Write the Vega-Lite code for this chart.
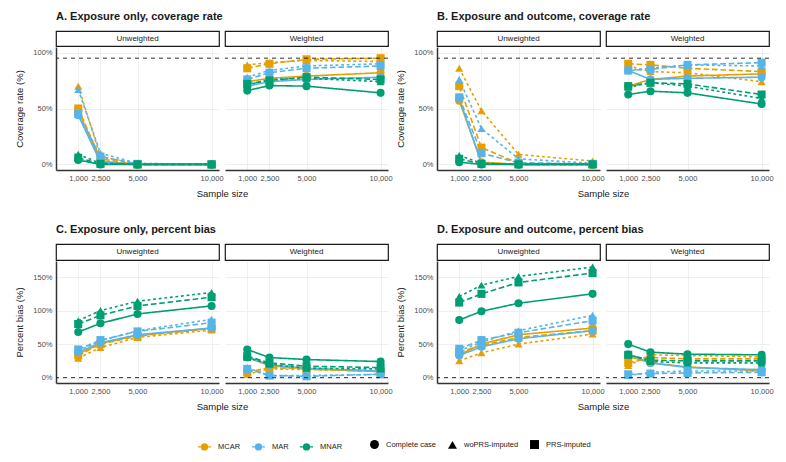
{
  "$schema": "https://vega.github.io/schema/vega-lite/v6.json",
  "background": "white",
  "padding": {"left": 14, "top": 10, "right": 5, "bottom": 5},
  "spacing": 25,
  "config": {
    "font": "Liberation Sans",
    "view": {"stroke": null},
    "axis": {
      "domainColor": "#333333",
      "domainWidth": 1.5,
      "gridColor": "#ebebeb",
      "gridWidth": 0.8,
      "ticks": false,
      "labelFontSize": 7.5,
      "labelColor": "#4d4d4d",
      "labelPadding": 4,
      "labelFlush": false,
      "labelOverlap": false,
      "titleFontSize": 9.5,
      "titleFontWeight": "normal",
      "titleColor": "#1a1a1a"
    },
    "axisY": {"titlePadding": 8},
    "axisX": {"titlePadding": 7},
    "title": {"fontSize": 11, "fontWeight": "bold", "anchor": "start", "color": "#1a1a1a", "offset": 9},
    "legend": {
      "orient": "bottom",
      "direction": "horizontal",
      "title": null,
      "labelFontSize": 7.5,
      "labelColor": "#1a1a1a",
      "labelOffset": 6,
      "columnPadding": 8,
      "offset": 28,
      "layout": {"bottom": {"anchor": "middle", "direction": "horizontal", "margin": 26, "bounds": "flush"}}
    }
  },
  "datasets": {
    "sim": [
      {"panel":"A","wt":"Unweighted","miss":"MCAR","method":"Complete case","n":1000,"value":48},
      {"panel":"A","wt":"Unweighted","miss":"MCAR","method":"Complete case","n":2500,"value":3},
      {"panel":"A","wt":"Unweighted","miss":"MCAR","method":"Complete case","n":5000,"value":0},
      {"panel":"A","wt":"Unweighted","miss":"MCAR","method":"Complete case","n":10000,"value":0},
      {"panel":"A","wt":"Unweighted","miss":"MCAR","method":"woPRS-imputed","n":1000,"value":70},
      {"panel":"A","wt":"Unweighted","miss":"MCAR","method":"woPRS-imputed","n":2500,"value":7},
      {"panel":"A","wt":"Unweighted","miss":"MCAR","method":"woPRS-imputed","n":5000,"value":0.5},
      {"panel":"A","wt":"Unweighted","miss":"MCAR","method":"woPRS-imputed","n":10000,"value":0},
      {"panel":"A","wt":"Unweighted","miss":"MCAR","method":"PRS-imputed","n":1000,"value":50},
      {"panel":"A","wt":"Unweighted","miss":"MCAR","method":"PRS-imputed","n":2500,"value":5},
      {"panel":"A","wt":"Unweighted","miss":"MCAR","method":"PRS-imputed","n":5000,"value":0},
      {"panel":"A","wt":"Unweighted","miss":"MCAR","method":"PRS-imputed","n":10000,"value":0},
      {"panel":"A","wt":"Unweighted","miss":"MAR","method":"Complete case","n":1000,"value":44},
      {"panel":"A","wt":"Unweighted","miss":"MAR","method":"Complete case","n":2500,"value":2},
      {"panel":"A","wt":"Unweighted","miss":"MAR","method":"Complete case","n":5000,"value":0},
      {"panel":"A","wt":"Unweighted","miss":"MAR","method":"Complete case","n":10000,"value":0},
      {"panel":"A","wt":"Unweighted","miss":"MAR","method":"woPRS-imputed","n":1000,"value":67},
      {"panel":"A","wt":"Unweighted","miss":"MAR","method":"woPRS-imputed","n":2500,"value":10},
      {"panel":"A","wt":"Unweighted","miss":"MAR","method":"woPRS-imputed","n":5000,"value":1},
      {"panel":"A","wt":"Unweighted","miss":"MAR","method":"woPRS-imputed","n":10000,"value":0},
      {"panel":"A","wt":"Unweighted","miss":"MAR","method":"PRS-imputed","n":1000,"value":45},
      {"panel":"A","wt":"Unweighted","miss":"MAR","method":"PRS-imputed","n":2500,"value":7},
      {"panel":"A","wt":"Unweighted","miss":"MAR","method":"PRS-imputed","n":5000,"value":0.5},
      {"panel":"A","wt":"Unweighted","miss":"MAR","method":"PRS-imputed","n":10000,"value":0},
      {"panel":"A","wt":"Unweighted","miss":"MNAR","method":"Complete case","n":1000,"value":4},
      {"panel":"A","wt":"Unweighted","miss":"MNAR","method":"Complete case","n":2500,"value":0},
      {"panel":"A","wt":"Unweighted","miss":"MNAR","method":"Complete case","n":5000,"value":0},
      {"panel":"A","wt":"Unweighted","miss":"MNAR","method":"Complete case","n":10000,"value":0},
      {"panel":"A","wt":"Unweighted","miss":"MNAR","method":"woPRS-imputed","n":1000,"value":9},
      {"panel":"A","wt":"Unweighted","miss":"MNAR","method":"woPRS-imputed","n":2500,"value":1},
      {"panel":"A","wt":"Unweighted","miss":"MNAR","method":"woPRS-imputed","n":5000,"value":0},
      {"panel":"A","wt":"Unweighted","miss":"MNAR","method":"woPRS-imputed","n":10000,"value":0},
      {"panel":"A","wt":"Unweighted","miss":"MNAR","method":"PRS-imputed","n":1000,"value":6},
      {"panel":"A","wt":"Unweighted","miss":"MNAR","method":"PRS-imputed","n":2500,"value":0.5},
      {"panel":"A","wt":"Unweighted","miss":"MNAR","method":"PRS-imputed","n":5000,"value":0},
      {"panel":"A","wt":"Unweighted","miss":"MNAR","method":"PRS-imputed","n":10000,"value":0},

      {"panel":"A","wt":"Weighted","miss":"MCAR","method":"Complete case","n":1000,"value":74},
      {"panel":"A","wt":"Weighted","miss":"MCAR","method":"Complete case","n":2500,"value":77},
      {"panel":"A","wt":"Weighted","miss":"MCAR","method":"Complete case","n":5000,"value":79},
      {"panel":"A","wt":"Weighted","miss":"MCAR","method":"Complete case","n":10000,"value":82},
      {"panel":"A","wt":"Weighted","miss":"MCAR","method":"woPRS-imputed","n":1000,"value":89},
      {"panel":"A","wt":"Weighted","miss":"MCAR","method":"woPRS-imputed","n":2500,"value":91},
      {"panel":"A","wt":"Weighted","miss":"MCAR","method":"woPRS-imputed","n":5000,"value":93},
      {"panel":"A","wt":"Weighted","miss":"MCAR","method":"woPRS-imputed","n":10000,"value":92},
      {"panel":"A","wt":"Weighted","miss":"MCAR","method":"PRS-imputed","n":1000,"value":86},
      {"panel":"A","wt":"Weighted","miss":"MCAR","method":"PRS-imputed","n":2500,"value":90},
      {"panel":"A","wt":"Weighted","miss":"MCAR","method":"PRS-imputed","n":5000,"value":94},
      {"panel":"A","wt":"Weighted","miss":"MCAR","method":"PRS-imputed","n":10000,"value":95},
      {"panel":"A","wt":"Weighted","miss":"MAR","method":"Complete case","n":1000,"value":70},
      {"panel":"A","wt":"Weighted","miss":"MAR","method":"Complete case","n":2500,"value":74},
      {"panel":"A","wt":"Weighted","miss":"MAR","method":"Complete case","n":5000,"value":76},
      {"panel":"A","wt":"Weighted","miss":"MAR","method":"Complete case","n":10000,"value":78},
      {"panel":"A","wt":"Weighted","miss":"MAR","method":"woPRS-imputed","n":1000,"value":78},
      {"panel":"A","wt":"Weighted","miss":"MAR","method":"woPRS-imputed","n":2500,"value":84},
      {"panel":"A","wt":"Weighted","miss":"MAR","method":"woPRS-imputed","n":5000,"value":88},
      {"panel":"A","wt":"Weighted","miss":"MAR","method":"woPRS-imputed","n":10000,"value":90},
      {"panel":"A","wt":"Weighted","miss":"MAR","method":"PRS-imputed","n":1000,"value":76},
      {"panel":"A","wt":"Weighted","miss":"MAR","method":"PRS-imputed","n":2500,"value":82},
      {"panel":"A","wt":"Weighted","miss":"MAR","method":"PRS-imputed","n":5000,"value":86},
      {"panel":"A","wt":"Weighted","miss":"MAR","method":"PRS-imputed","n":10000,"value":88},
      {"panel":"A","wt":"Weighted","miss":"MNAR","method":"Complete case","n":1000,"value":66},
      {"panel":"A","wt":"Weighted","miss":"MNAR","method":"Complete case","n":2500,"value":70.5},
      {"panel":"A","wt":"Weighted","miss":"MNAR","method":"Complete case","n":5000,"value":70},
      {"panel":"A","wt":"Weighted","miss":"MNAR","method":"Complete case","n":10000,"value":64},
      {"panel":"A","wt":"Weighted","miss":"MNAR","method":"woPRS-imputed","n":1000,"value":71},
      {"panel":"A","wt":"Weighted","miss":"MNAR","method":"woPRS-imputed","n":2500,"value":76},
      {"panel":"A","wt":"Weighted","miss":"MNAR","method":"woPRS-imputed","n":5000,"value":77},
      {"panel":"A","wt":"Weighted","miss":"MNAR","method":"woPRS-imputed","n":10000,"value":74},
      {"panel":"A","wt":"Weighted","miss":"MNAR","method":"PRS-imputed","n":1000,"value":72},
      {"panel":"A","wt":"Weighted","miss":"MNAR","method":"PRS-imputed","n":2500,"value":75},
      {"panel":"A","wt":"Weighted","miss":"MNAR","method":"PRS-imputed","n":5000,"value":78},
      {"panel":"A","wt":"Weighted","miss":"MNAR","method":"PRS-imputed","n":10000,"value":76},

      {"panel":"B","wt":"Unweighted","miss":"MCAR","method":"Complete case","n":1000,"value":57},
      {"panel":"B","wt":"Unweighted","miss":"MCAR","method":"Complete case","n":2500,"value":2},
      {"panel":"B","wt":"Unweighted","miss":"MCAR","method":"Complete case","n":5000,"value":0},
      {"panel":"B","wt":"Unweighted","miss":"MCAR","method":"Complete case","n":10000,"value":0},
      {"panel":"B","wt":"Unweighted","miss":"MCAR","method":"woPRS-imputed","n":1000,"value":86},
      {"panel":"B","wt":"Unweighted","miss":"MCAR","method":"woPRS-imputed","n":2500,"value":48},
      {"panel":"B","wt":"Unweighted","miss":"MCAR","method":"woPRS-imputed","n":5000,"value":9},
      {"panel":"B","wt":"Unweighted","miss":"MCAR","method":"woPRS-imputed","n":10000,"value":3},
      {"panel":"B","wt":"Unweighted","miss":"MCAR","method":"PRS-imputed","n":1000,"value":70},
      {"panel":"B","wt":"Unweighted","miss":"MCAR","method":"PRS-imputed","n":2500,"value":15},
      {"panel":"B","wt":"Unweighted","miss":"MCAR","method":"PRS-imputed","n":5000,"value":1},
      {"panel":"B","wt":"Unweighted","miss":"MCAR","method":"PRS-imputed","n":10000,"value":0},
      {"panel":"B","wt":"Unweighted","miss":"MAR","method":"Complete case","n":1000,"value":59},
      {"panel":"B","wt":"Unweighted","miss":"MAR","method":"Complete case","n":2500,"value":1},
      {"panel":"B","wt":"Unweighted","miss":"MAR","method":"Complete case","n":5000,"value":0},
      {"panel":"B","wt":"Unweighted","miss":"MAR","method":"Complete case","n":10000,"value":0},
      {"panel":"B","wt":"Unweighted","miss":"MAR","method":"woPRS-imputed","n":1000,"value":76},
      {"panel":"B","wt":"Unweighted","miss":"MAR","method":"woPRS-imputed","n":2500,"value":32},
      {"panel":"B","wt":"Unweighted","miss":"MAR","method":"woPRS-imputed","n":5000,"value":5},
      {"panel":"B","wt":"Unweighted","miss":"MAR","method":"woPRS-imputed","n":10000,"value":1},
      {"panel":"B","wt":"Unweighted","miss":"MAR","method":"PRS-imputed","n":1000,"value":60},
      {"panel":"B","wt":"Unweighted","miss":"MAR","method":"PRS-imputed","n":2500,"value":10},
      {"panel":"B","wt":"Unweighted","miss":"MAR","method":"PRS-imputed","n":5000,"value":1.5},
      {"panel":"B","wt":"Unweighted","miss":"MAR","method":"PRS-imputed","n":10000,"value":0.5},
      {"panel":"B","wt":"Unweighted","miss":"MNAR","method":"Complete case","n":1000,"value":2},
      {"panel":"B","wt":"Unweighted","miss":"MNAR","method":"Complete case","n":2500,"value":0},
      {"panel":"B","wt":"Unweighted","miss":"MNAR","method":"Complete case","n":5000,"value":0},
      {"panel":"B","wt":"Unweighted","miss":"MNAR","method":"Complete case","n":10000,"value":0},
      {"panel":"B","wt":"Unweighted","miss":"MNAR","method":"woPRS-imputed","n":1000,"value":8},
      {"panel":"B","wt":"Unweighted","miss":"MNAR","method":"woPRS-imputed","n":2500,"value":1},
      {"panel":"B","wt":"Unweighted","miss":"MNAR","method":"woPRS-imputed","n":5000,"value":0},
      {"panel":"B","wt":"Unweighted","miss":"MNAR","method":"woPRS-imputed","n":10000,"value":0},
      {"panel":"B","wt":"Unweighted","miss":"MNAR","method":"PRS-imputed","n":1000,"value":5},
      {"panel":"B","wt":"Unweighted","miss":"MNAR","method":"PRS-imputed","n":2500,"value":0.5},
      {"panel":"B","wt":"Unweighted","miss":"MNAR","method":"PRS-imputed","n":5000,"value":0},
      {"panel":"B","wt":"Unweighted","miss":"MNAR","method":"PRS-imputed","n":10000,"value":0},

      {"panel":"B","wt":"Weighted","miss":"MCAR","method":"Complete case","n":1000,"value":70},
      {"panel":"B","wt":"Weighted","miss":"MCAR","method":"Complete case","n":2500,"value":76},
      {"panel":"B","wt":"Weighted","miss":"MCAR","method":"Complete case","n":5000,"value":79},
      {"panel":"B","wt":"Weighted","miss":"MCAR","method":"Complete case","n":10000,"value":81},
      {"panel":"B","wt":"Weighted","miss":"MCAR","method":"woPRS-imputed","n":1000,"value":88},
      {"panel":"B","wt":"Weighted","miss":"MCAR","method":"woPRS-imputed","n":2500,"value":83},
      {"panel":"B","wt":"Weighted","miss":"MCAR","method":"woPRS-imputed","n":5000,"value":82},
      {"panel":"B","wt":"Weighted","miss":"MCAR","method":"woPRS-imputed","n":10000,"value":74},
      {"panel":"B","wt":"Weighted","miss":"MCAR","method":"PRS-imputed","n":1000,"value":90},
      {"panel":"B","wt":"Weighted","miss":"MCAR","method":"PRS-imputed","n":2500,"value":89},
      {"panel":"B","wt":"Weighted","miss":"MCAR","method":"PRS-imputed","n":5000,"value":86},
      {"panel":"B","wt":"Weighted","miss":"MCAR","method":"PRS-imputed","n":10000,"value":83},
      {"panel":"B","wt":"Weighted","miss":"MAR","method":"Complete case","n":1000,"value":84},
      {"panel":"B","wt":"Weighted","miss":"MAR","method":"Complete case","n":2500,"value":76},
      {"panel":"B","wt":"Weighted","miss":"MAR","method":"Complete case","n":5000,"value":77},
      {"panel":"B","wt":"Weighted","miss":"MAR","method":"Complete case","n":10000,"value":78},
      {"panel":"B","wt":"Weighted","miss":"MAR","method":"woPRS-imputed","n":1000,"value":84},
      {"panel":"B","wt":"Weighted","miss":"MAR","method":"woPRS-imputed","n":2500,"value":86},
      {"panel":"B","wt":"Weighted","miss":"MAR","method":"woPRS-imputed","n":5000,"value":89},
      {"panel":"B","wt":"Weighted","miss":"MAR","method":"woPRS-imputed","n":10000,"value":88},
      {"panel":"B","wt":"Weighted","miss":"MAR","method":"PRS-imputed","n":1000,"value":84},
      {"panel":"B","wt":"Weighted","miss":"MAR","method":"PRS-imputed","n":2500,"value":85},
      {"panel":"B","wt":"Weighted","miss":"MAR","method":"PRS-imputed","n":5000,"value":89},
      {"panel":"B","wt":"Weighted","miss":"MAR","method":"PRS-imputed","n":10000,"value":91},
      {"panel":"B","wt":"Weighted","miss":"MNAR","method":"Complete case","n":1000,"value":62.5},
      {"panel":"B","wt":"Weighted","miss":"MNAR","method":"Complete case","n":2500,"value":65.5},
      {"panel":"B","wt":"Weighted","miss":"MNAR","method":"Complete case","n":5000,"value":64},
      {"panel":"B","wt":"Weighted","miss":"MNAR","method":"Complete case","n":10000,"value":54},
      {"panel":"B","wt":"Weighted","miss":"MNAR","method":"woPRS-imputed","n":1000,"value":69},
      {"panel":"B","wt":"Weighted","miss":"MNAR","method":"woPRS-imputed","n":2500,"value":73},
      {"panel":"B","wt":"Weighted","miss":"MNAR","method":"woPRS-imputed","n":5000,"value":70},
      {"panel":"B","wt":"Weighted","miss":"MNAR","method":"woPRS-imputed","n":10000,"value":59},
      {"panel":"B","wt":"Weighted","miss":"MNAR","method":"PRS-imputed","n":1000,"value":70},
      {"panel":"B","wt":"Weighted","miss":"MNAR","method":"PRS-imputed","n":2500,"value":73},
      {"panel":"B","wt":"Weighted","miss":"MNAR","method":"PRS-imputed","n":5000,"value":72},
      {"panel":"B","wt":"Weighted","miss":"MNAR","method":"PRS-imputed","n":10000,"value":62.5},

      {"panel":"C","wt":"Unweighted","miss":"MCAR","method":"Complete case","n":1000,"value":35},
      {"panel":"C","wt":"Unweighted","miss":"MCAR","method":"Complete case","n":2500,"value":51},
      {"panel":"C","wt":"Unweighted","miss":"MCAR","method":"Complete case","n":5000,"value":63},
      {"panel":"C","wt":"Unweighted","miss":"MCAR","method":"Complete case","n":10000,"value":74},
      {"panel":"C","wt":"Unweighted","miss":"MCAR","method":"woPRS-imputed","n":1000,"value":29},
      {"panel":"C","wt":"Unweighted","miss":"MCAR","method":"woPRS-imputed","n":2500,"value":45},
      {"panel":"C","wt":"Unweighted","miss":"MCAR","method":"woPRS-imputed","n":5000,"value":60},
      {"panel":"C","wt":"Unweighted","miss":"MCAR","method":"woPRS-imputed","n":10000,"value":71},
      {"panel":"C","wt":"Unweighted","miss":"MCAR","method":"PRS-imputed","n":1000,"value":33},
      {"panel":"C","wt":"Unweighted","miss":"MCAR","method":"PRS-imputed","n":2500,"value":50},
      {"panel":"C","wt":"Unweighted","miss":"MCAR","method":"PRS-imputed","n":5000,"value":62},
      {"panel":"C","wt":"Unweighted","miss":"MCAR","method":"PRS-imputed","n":10000,"value":73},
      {"panel":"C","wt":"Unweighted","miss":"MAR","method":"Complete case","n":1000,"value":38},
      {"panel":"C","wt":"Unweighted","miss":"MAR","method":"Complete case","n":2500,"value":52},
      {"panel":"C","wt":"Unweighted","miss":"MAR","method":"Complete case","n":5000,"value":64},
      {"panel":"C","wt":"Unweighted","miss":"MAR","method":"Complete case","n":10000,"value":74},
      {"panel":"C","wt":"Unweighted","miss":"MAR","method":"woPRS-imputed","n":1000,"value":40},
      {"panel":"C","wt":"Unweighted","miss":"MAR","method":"woPRS-imputed","n":2500,"value":55},
      {"panel":"C","wt":"Unweighted","miss":"MAR","method":"woPRS-imputed","n":5000,"value":70},
      {"panel":"C","wt":"Unweighted","miss":"MAR","method":"woPRS-imputed","n":10000,"value":87},
      {"panel":"C","wt":"Unweighted","miss":"MAR","method":"PRS-imputed","n":1000,"value":42},
      {"panel":"C","wt":"Unweighted","miss":"MAR","method":"PRS-imputed","n":2500,"value":56},
      {"panel":"C","wt":"Unweighted","miss":"MAR","method":"PRS-imputed","n":5000,"value":69},
      {"panel":"C","wt":"Unweighted","miss":"MAR","method":"PRS-imputed","n":10000,"value":82},
      {"panel":"C","wt":"Unweighted","miss":"MNAR","method":"Complete case","n":1000,"value":68},
      {"panel":"C","wt":"Unweighted","miss":"MNAR","method":"Complete case","n":2500,"value":81},
      {"panel":"C","wt":"Unweighted","miss":"MNAR","method":"Complete case","n":5000,"value":95},
      {"panel":"C","wt":"Unweighted","miss":"MNAR","method":"Complete case","n":10000,"value":107},
      {"panel":"C","wt":"Unweighted","miss":"MNAR","method":"woPRS-imputed","n":1000,"value":85},
      {"panel":"C","wt":"Unweighted","miss":"MNAR","method":"woPRS-imputed","n":2500,"value":100},
      {"panel":"C","wt":"Unweighted","miss":"MNAR","method":"woPRS-imputed","n":5000,"value":114},
      {"panel":"C","wt":"Unweighted","miss":"MNAR","method":"woPRS-imputed","n":10000,"value":127},
      {"panel":"C","wt":"Unweighted","miss":"MNAR","method":"PRS-imputed","n":1000,"value":80},
      {"panel":"C","wt":"Unweighted","miss":"MNAR","method":"PRS-imputed","n":2500,"value":93},
      {"panel":"C","wt":"Unweighted","miss":"MNAR","method":"PRS-imputed","n":5000,"value":107},
      {"panel":"C","wt":"Unweighted","miss":"MNAR","method":"PRS-imputed","n":10000,"value":120},

      {"panel":"C","wt":"Weighted","miss":"MCAR","method":"Complete case","n":1000,"value":30},
      {"panel":"C","wt":"Weighted","miss":"MCAR","method":"Complete case","n":2500,"value":18},
      {"panel":"C","wt":"Weighted","miss":"MCAR","method":"Complete case","n":5000,"value":13},
      {"panel":"C","wt":"Weighted","miss":"MCAR","method":"Complete case","n":10000,"value":9},
      {"panel":"C","wt":"Weighted","miss":"MCAR","method":"woPRS-imputed","n":1000,"value":5},
      {"panel":"C","wt":"Weighted","miss":"MCAR","method":"woPRS-imputed","n":2500,"value":13},
      {"panel":"C","wt":"Weighted","miss":"MCAR","method":"woPRS-imputed","n":5000,"value":12},
      {"panel":"C","wt":"Weighted","miss":"MCAR","method":"woPRS-imputed","n":10000,"value":10},
      {"panel":"C","wt":"Weighted","miss":"MCAR","method":"PRS-imputed","n":1000,"value":8},
      {"panel":"C","wt":"Weighted","miss":"MCAR","method":"PRS-imputed","n":2500,"value":15},
      {"panel":"C","wt":"Weighted","miss":"MCAR","method":"PRS-imputed","n":5000,"value":13},
      {"panel":"C","wt":"Weighted","miss":"MCAR","method":"PRS-imputed","n":10000,"value":9},
      {"panel":"C","wt":"Weighted","miss":"MAR","method":"Complete case","n":1000,"value":31},
      {"panel":"C","wt":"Weighted","miss":"MAR","method":"Complete case","n":2500,"value":19},
      {"panel":"C","wt":"Weighted","miss":"MAR","method":"Complete case","n":5000,"value":14},
      {"panel":"C","wt":"Weighted","miss":"MAR","method":"Complete case","n":10000,"value":10},
      {"panel":"C","wt":"Weighted","miss":"MAR","method":"woPRS-imputed","n":1000,"value":15},
      {"panel":"C","wt":"Weighted","miss":"MAR","method":"woPRS-imputed","n":2500,"value":3},
      {"panel":"C","wt":"Weighted","miss":"MAR","method":"woPRS-imputed","n":5000,"value":3},
      {"panel":"C","wt":"Weighted","miss":"MAR","method":"woPRS-imputed","n":10000,"value":5},
      {"panel":"C","wt":"Weighted","miss":"MAR","method":"PRS-imputed","n":1000,"value":13},
      {"panel":"C","wt":"Weighted","miss":"MAR","method":"PRS-imputed","n":2500,"value":3},
      {"panel":"C","wt":"Weighted","miss":"MAR","method":"PRS-imputed","n":5000,"value":2},
      {"panel":"C","wt":"Weighted","miss":"MAR","method":"PRS-imputed","n":10000,"value":5},
      {"panel":"C","wt":"Weighted","miss":"MNAR","method":"Complete case","n":1000,"value":42},
      {"panel":"C","wt":"Weighted","miss":"MNAR","method":"Complete case","n":2500,"value":30},
      {"panel":"C","wt":"Weighted","miss":"MNAR","method":"Complete case","n":5000,"value":27},
      {"panel":"C","wt":"Weighted","miss":"MNAR","method":"Complete case","n":10000,"value":24},
      {"panel":"C","wt":"Weighted","miss":"MNAR","method":"woPRS-imputed","n":1000,"value":30},
      {"panel":"C","wt":"Weighted","miss":"MNAR","method":"woPRS-imputed","n":2500,"value":20},
      {"panel":"C","wt":"Weighted","miss":"MNAR","method":"woPRS-imputed","n":5000,"value":14},
      {"panel":"C","wt":"Weighted","miss":"MNAR","method":"woPRS-imputed","n":10000,"value":13},
      {"panel":"C","wt":"Weighted","miss":"MNAR","method":"PRS-imputed","n":1000,"value":32},
      {"panel":"C","wt":"Weighted","miss":"MNAR","method":"PRS-imputed","n":2500,"value":22},
      {"panel":"C","wt":"Weighted","miss":"MNAR","method":"PRS-imputed","n":5000,"value":17},
      {"panel":"C","wt":"Weighted","miss":"MNAR","method":"PRS-imputed","n":10000,"value":15},

      {"panel":"D","wt":"Unweighted","miss":"MCAR","method":"Complete case","n":1000,"value":34},
      {"panel":"D","wt":"Unweighted","miss":"MCAR","method":"Complete case","n":2500,"value":50},
      {"panel":"D","wt":"Unweighted","miss":"MCAR","method":"Complete case","n":5000,"value":64},
      {"panel":"D","wt":"Unweighted","miss":"MCAR","method":"Complete case","n":10000,"value":74},
      {"panel":"D","wt":"Unweighted","miss":"MCAR","method":"woPRS-imputed","n":1000,"value":25},
      {"panel":"D","wt":"Unweighted","miss":"MCAR","method":"woPRS-imputed","n":2500,"value":37},
      {"panel":"D","wt":"Unweighted","miss":"MCAR","method":"woPRS-imputed","n":5000,"value":50},
      {"panel":"D","wt":"Unweighted","miss":"MCAR","method":"woPRS-imputed","n":10000,"value":65},
      {"panel":"D","wt":"Unweighted","miss":"MCAR","method":"PRS-imputed","n":1000,"value":38},
      {"panel":"D","wt":"Unweighted","miss":"MCAR","method":"PRS-imputed","n":2500,"value":48},
      {"panel":"D","wt":"Unweighted","miss":"MCAR","method":"PRS-imputed","n":5000,"value":60},
      {"panel":"D","wt":"Unweighted","miss":"MCAR","method":"PRS-imputed","n":10000,"value":70},
      {"panel":"D","wt":"Unweighted","miss":"MAR","method":"Complete case","n":1000,"value":33},
      {"panel":"D","wt":"Unweighted","miss":"MAR","method":"Complete case","n":2500,"value":46},
      {"panel":"D","wt":"Unweighted","miss":"MAR","method":"Complete case","n":5000,"value":58},
      {"panel":"D","wt":"Unweighted","miss":"MAR","method":"Complete case","n":10000,"value":70},
      {"panel":"D","wt":"Unweighted","miss":"MAR","method":"woPRS-imputed","n":1000,"value":40},
      {"panel":"D","wt":"Unweighted","miss":"MAR","method":"woPRS-imputed","n":2500,"value":53},
      {"panel":"D","wt":"Unweighted","miss":"MAR","method":"woPRS-imputed","n":5000,"value":70},
      {"panel":"D","wt":"Unweighted","miss":"MAR","method":"woPRS-imputed","n":10000,"value":93},
      {"panel":"D","wt":"Unweighted","miss":"MAR","method":"PRS-imputed","n":1000,"value":43},
      {"panel":"D","wt":"Unweighted","miss":"MAR","method":"PRS-imputed","n":2500,"value":56},
      {"panel":"D","wt":"Unweighted","miss":"MAR","method":"PRS-imputed","n":5000,"value":67},
      {"panel":"D","wt":"Unweighted","miss":"MAR","method":"PRS-imputed","n":10000,"value":85},
      {"panel":"D","wt":"Unweighted","miss":"MNAR","method":"Complete case","n":1000,"value":86},
      {"panel":"D","wt":"Unweighted","miss":"MNAR","method":"Complete case","n":2500,"value":99},
      {"panel":"D","wt":"Unweighted","miss":"MNAR","method":"Complete case","n":5000,"value":111},
      {"panel":"D","wt":"Unweighted","miss":"MNAR","method":"Complete case","n":10000,"value":125},
      {"panel":"D","wt":"Unweighted","miss":"MNAR","method":"woPRS-imputed","n":1000,"value":121},
      {"panel":"D","wt":"Unweighted","miss":"MNAR","method":"woPRS-imputed","n":2500,"value":138},
      {"panel":"D","wt":"Unweighted","miss":"MNAR","method":"woPRS-imputed","n":5000,"value":151},
      {"panel":"D","wt":"Unweighted","miss":"MNAR","method":"woPRS-imputed","n":10000,"value":165},
      {"panel":"D","wt":"Unweighted","miss":"MNAR","method":"PRS-imputed","n":1000,"value":112},
      {"panel":"D","wt":"Unweighted","miss":"MNAR","method":"PRS-imputed","n":2500,"value":125},
      {"panel":"D","wt":"Unweighted","miss":"MNAR","method":"PRS-imputed","n":5000,"value":142},
      {"panel":"D","wt":"Unweighted","miss":"MNAR","method":"PRS-imputed","n":10000,"value":156},

      {"panel":"D","wt":"Weighted","miss":"MCAR","method":"Complete case","n":1000,"value":32},
      {"panel":"D","wt":"Weighted","miss":"MCAR","method":"Complete case","n":2500,"value":22},
      {"panel":"D","wt":"Weighted","miss":"MCAR","method":"Complete case","n":5000,"value":16},
      {"panel":"D","wt":"Weighted","miss":"MCAR","method":"Complete case","n":10000,"value":10},
      {"panel":"D","wt":"Weighted","miss":"MCAR","method":"woPRS-imputed","n":1000,"value":18},
      {"panel":"D","wt":"Weighted","miss":"MCAR","method":"woPRS-imputed","n":2500,"value":34},
      {"panel":"D","wt":"Weighted","miss":"MCAR","method":"woPRS-imputed","n":5000,"value":33},
      {"panel":"D","wt":"Weighted","miss":"MCAR","method":"woPRS-imputed","n":10000,"value":31},
      {"panel":"D","wt":"Weighted","miss":"MCAR","method":"PRS-imputed","n":1000,"value":22},
      {"panel":"D","wt":"Weighted","miss":"MCAR","method":"PRS-imputed","n":2500,"value":30},
      {"panel":"D","wt":"Weighted","miss":"MCAR","method":"PRS-imputed","n":5000,"value":28},
      {"panel":"D","wt":"Weighted","miss":"MCAR","method":"PRS-imputed","n":10000,"value":28},
      {"panel":"D","wt":"Weighted","miss":"MAR","method":"Complete case","n":1000,"value":35},
      {"panel":"D","wt":"Weighted","miss":"MAR","method":"Complete case","n":2500,"value":22},
      {"panel":"D","wt":"Weighted","miss":"MAR","method":"Complete case","n":5000,"value":15},
      {"panel":"D","wt":"Weighted","miss":"MAR","method":"Complete case","n":10000,"value":12},
      {"panel":"D","wt":"Weighted","miss":"MAR","method":"woPRS-imputed","n":1000,"value":3},
      {"panel":"D","wt":"Weighted","miss":"MAR","method":"woPRS-imputed","n":2500,"value":8},
      {"panel":"D","wt":"Weighted","miss":"MAR","method":"woPRS-imputed","n":5000,"value":10},
      {"panel":"D","wt":"Weighted","miss":"MAR","method":"woPRS-imputed","n":10000,"value":10},
      {"panel":"D","wt":"Weighted","miss":"MAR","method":"PRS-imputed","n":1000,"value":5},
      {"panel":"D","wt":"Weighted","miss":"MAR","method":"PRS-imputed","n":2500,"value":6},
      {"panel":"D","wt":"Weighted","miss":"MAR","method":"PRS-imputed","n":5000,"value":7},
      {"panel":"D","wt":"Weighted","miss":"MAR","method":"PRS-imputed","n":10000,"value":8},
      {"panel":"D","wt":"Weighted","miss":"MNAR","method":"Complete case","n":1000,"value":50},
      {"panel":"D","wt":"Weighted","miss":"MNAR","method":"Complete case","n":2500,"value":38},
      {"panel":"D","wt":"Weighted","miss":"MNAR","method":"Complete case","n":5000,"value":35},
      {"panel":"D","wt":"Weighted","miss":"MNAR","method":"Complete case","n":10000,"value":34},
      {"panel":"D","wt":"Weighted","miss":"MNAR","method":"woPRS-imputed","n":1000,"value":35},
      {"panel":"D","wt":"Weighted","miss":"MNAR","method":"woPRS-imputed","n":2500,"value":24},
      {"panel":"D","wt":"Weighted","miss":"MNAR","method":"woPRS-imputed","n":5000,"value":22},
      {"panel":"D","wt":"Weighted","miss":"MNAR","method":"woPRS-imputed","n":10000,"value":22},
      {"panel":"D","wt":"Weighted","miss":"MNAR","method":"PRS-imputed","n":1000,"value":34},
      {"panel":"D","wt":"Weighted","miss":"MNAR","method":"PRS-imputed","n":2500,"value":26},
      {"panel":"D","wt":"Weighted","miss":"MNAR","method":"PRS-imputed","n":5000,"value":25},
      {"panel":"D","wt":"Weighted","miss":"MNAR","method":"PRS-imputed","n":10000,"value":25}
    ]
  },
  "vconcat": [
    {
      "spacing": 2,
      "hconcat": [
        {
          "spacing": 0,
          "vconcat": [
            {
              "spacing": 6, "bounds": "flush",
              "hconcat": [
                {"width": 163, "height": 15, "title": "A. Exposure only, coverage rate", "view": {"stroke": "#1a1a1a", "strokeWidth": 1.2, "fill": "white"}, "data": {"values": [{"label": "Unweighted"}]}, "mark": {"type": "text", "fontSize": 8, "color": "#1a1a1a"}, "encoding": {"text": {"field": "label"}}},
                {"width": 163, "height": 15, "view": {"stroke": "#1a1a1a", "strokeWidth": 1.2, "fill": "white"}, "data": {"values": [{"label": "Weighted"}]}, "mark": {"type": "text", "fontSize": 8, "color": "#1a1a1a"}, "encoding": {"text": {"field": "label"}}}
              ]
            },
            {
              "spacing": 6, "bounds": "flush",
              "hconcat": [
                {
                  "width": 163, "height": 123,
                  "layer": [
                    {
                      "data": {"name": "sim"},
                      "transform": [{"filter": "datum.panel === 'A' && datum.wt === 'Unweighted'"}],
                      "encoding": {
                        "x": {"field": "n", "type": "quantitative", "scale": {"domain": [-500, 10500], "nice": false, "zero": false}, "axis": {"values": [1000, 2500, 5000, 10000], "format": ",d", "title": "Sample size", "titleX": 166}},
                        "y": {"field": "value", "type": "quantitative", "scale": {"domain": [-5, 105], "nice": false, "zero": false}, "axis": {"values": [0, 25, 50, 75, 100], "labelExpr": "datum.value + '%'", "title": "Coverage rate (%)"}}
                      },
                      "layer": [
                        {"mark": {"type": "line", "strokeWidth": 1.6}, "encoding": {"color": {"field": "miss", "type": "nominal", "scale": {"domain": ["MCAR", "MAR", "MNAR"], "range": ["#E69F00", "#56B4E9", "#009E73"]}, "legend": {"symbolType": "M-1,0L1,0M0.45,0A0.45,0.45,0,1,1,-0.45,0A0.45,0.45,0,1,1,0.45,0Z", "symbolSize": 170, "symbolStrokeWidth": 1.4}}, "strokeDash": {"field": "method", "type": "nominal", "scale": {"domain": ["PRS-imputed", "Complete case", "woPRS-imputed"], "range": [[5.6, 2.8], [1, 0], [2.8, 2.8]]}, "legend": null}}},
                        {"mark": {"type": "point", "filled": true, "size": 65, "opacity": 1}, "encoding": {"color": {"field": "miss", "type": "nominal"}, "shape": {"field": "method", "type": "nominal", "scale": {"domain": ["Complete case", "woPRS-imputed", "PRS-imputed"], "range": ["circle", "triangle-up", "square"]}, "legend": {"symbolSize": 80, "symbolFillColor": "black", "symbolStrokeColor": "black", "symbolOpacity": 1}}}}
                      ]
                    },
                    {"data": {"values": [{}]}, "mark": {"type": "rule", "strokeDash": [4, 4], "color": "#1a1a1a", "strokeWidth": 0.9}, "encoding": {"y": {"datum": 95}}}
                  ]
                },
                {
                  "width": 163, "height": 123,
                  "layer": [
                    {
                      "data": {"name": "sim"},
                      "transform": [{"filter": "datum.panel === 'A' && datum.wt === 'Weighted'"}],
                      "encoding": {
                        "x": {"field": "n", "type": "quantitative", "scale": {"domain": [-500, 10500], "nice": false, "zero": false}, "axis": {"values": [1000, 2500, 5000, 10000], "format": ",d", "title": null}},
                        "y": {"field": "value", "type": "quantitative", "scale": {"domain": [-5, 105], "nice": false, "zero": false}, "axis": {"values": [0, 25, 50, 75, 100], "labels": false, "domain": false, "title": null}}
                      },
                      "layer": [
                        {"mark": {"type": "line", "strokeWidth": 1.6}, "encoding": {"color": {"field": "miss", "type": "nominal"}, "strokeDash": {"field": "method", "type": "nominal", "legend": null}}},
                        {"mark": {"type": "point", "filled": true, "size": 65, "opacity": 1}, "encoding": {"color": {"field": "miss", "type": "nominal"}, "shape": {"field": "method", "type": "nominal"}}}
                      ]
                    },
                    {"data": {"values": [{}]}, "mark": {"type": "rule", "strokeDash": [4, 4], "color": "#1a1a1a", "strokeWidth": 0.9}, "encoding": {"y": {"datum": 95}}}
                  ]
                }
              ]
            }
          ]
        },
        {
          "spacing": 0,
          "vconcat": [
            {
              "spacing": 6, "bounds": "flush",
              "hconcat": [
                {"width": 163, "height": 15, "title": "B. Exposure and outcome, coverage rate", "view": {"stroke": "#1a1a1a", "strokeWidth": 1.2, "fill": "white"}, "data": {"values": [{"label": "Unweighted"}]}, "mark": {"type": "text", "fontSize": 8, "color": "#1a1a1a"}, "encoding": {"text": {"field": "label"}}},
                {"width": 163, "height": 15, "view": {"stroke": "#1a1a1a", "strokeWidth": 1.2, "fill": "white"}, "data": {"values": [{"label": "Weighted"}]}, "mark": {"type": "text", "fontSize": 8, "color": "#1a1a1a"}, "encoding": {"text": {"field": "label"}}}
              ]
            },
            {
              "spacing": 6, "bounds": "flush",
              "hconcat": [
                {
                  "width": 163, "height": 123,
                  "layer": [
                    {
                      "data": {"name": "sim"},
                      "transform": [{"filter": "datum.panel === 'B' && datum.wt === 'Unweighted'"}],
                      "encoding": {
                        "x": {"field": "n", "type": "quantitative", "scale": {"domain": [-500, 10500], "nice": false, "zero": false}, "axis": {"values": [1000, 2500, 5000, 10000], "format": ",d", "title": "Sample size", "titleX": 166}},
                        "y": {"field": "value", "type": "quantitative", "scale": {"domain": [-5, 105], "nice": false, "zero": false}, "axis": {"values": [0, 25, 50, 75, 100], "labelExpr": "datum.value + '%'", "title": "Coverage rate (%)"}}
                      },
                      "layer": [
                        {"mark": {"type": "line", "strokeWidth": 1.6}, "encoding": {"color": {"field": "miss", "type": "nominal"}, "strokeDash": {"field": "method", "type": "nominal", "legend": null}}},
                        {"mark": {"type": "point", "filled": true, "size": 65, "opacity": 1}, "encoding": {"color": {"field": "miss", "type": "nominal"}, "shape": {"field": "method", "type": "nominal"}}}
                      ]
                    },
                    {"data": {"values": [{}]}, "mark": {"type": "rule", "strokeDash": [4, 4], "color": "#1a1a1a", "strokeWidth": 0.9}, "encoding": {"y": {"datum": 95}}}
                  ]
                },
                {
                  "width": 163, "height": 123,
                  "layer": [
                    {
                      "data": {"name": "sim"},
                      "transform": [{"filter": "datum.panel === 'B' && datum.wt === 'Weighted'"}],
                      "encoding": {
                        "x": {"field": "n", "type": "quantitative", "scale": {"domain": [-500, 10500], "nice": false, "zero": false}, "axis": {"values": [1000, 2500, 5000, 10000], "format": ",d", "title": null}},
                        "y": {"field": "value", "type": "quantitative", "scale": {"domain": [-5, 105], "nice": false, "zero": false}, "axis": {"values": [0, 25, 50, 75, 100], "labels": false, "domain": false, "title": null}}
                      },
                      "layer": [
                        {"mark": {"type": "line", "strokeWidth": 1.6}, "encoding": {"color": {"field": "miss", "type": "nominal"}, "strokeDash": {"field": "method", "type": "nominal", "legend": null}}},
                        {"mark": {"type": "point", "filled": true, "size": 65, "opacity": 1}, "encoding": {"color": {"field": "miss", "type": "nominal"}, "shape": {"field": "method", "type": "nominal"}}}
                      ]
                    },
                    {"data": {"values": [{}]}, "mark": {"type": "rule", "strokeDash": [4, 4], "color": "#1a1a1a", "strokeWidth": 0.9}, "encoding": {"y": {"datum": 95}}}
                  ]
                }
              ]
            }
          ]
        }
      ]
    },
    {
      "spacing": 2,
      "hconcat": [
        {
          "spacing": 0,
          "vconcat": [
            {
              "spacing": 6, "bounds": "flush",
              "hconcat": [
                {"width": 163, "height": 16, "title": "C. Exposure only, percent bias", "view": {"stroke": "#1a1a1a", "strokeWidth": 1.2, "fill": "white"}, "data": {"values": [{"label": "Unweighted"}]}, "mark": {"type": "text", "fontSize": 8, "color": "#1a1a1a"}, "encoding": {"text": {"field": "label"}}},
                {"width": 163, "height": 16, "view": {"stroke": "#1a1a1a", "strokeWidth": 1.2, "fill": "white"}, "data": {"values": [{"label": "Weighted"}]}, "mark": {"type": "text", "fontSize": 8, "color": "#1a1a1a"}, "encoding": {"text": {"field": "label"}}}
              ]
            },
            {
              "spacing": 6, "bounds": "flush",
              "hconcat": [
                {
                  "width": 163, "height": 122,
                  "layer": [
                    {
                      "data": {"name": "sim"},
                      "transform": [{"filter": "datum.panel === 'C' && datum.wt === 'Unweighted'"}],
                      "encoding": {
                        "x": {"field": "n", "type": "quantitative", "scale": {"domain": [-500, 10500], "nice": false, "zero": false}, "axis": {"values": [1000, 2500, 5000, 10000], "format": ",d", "title": "Sample size", "titleX": 166}},
                        "y": {"field": "value", "type": "quantitative", "scale": {"domain": [-8, 174], "nice": false, "zero": false}, "axis": {"values": [0, 50, 100, 150], "labelExpr": "datum.value + '%'", "title": "Percent bias (%)"}}
                      },
                      "layer": [
                        {"mark": {"type": "line", "strokeWidth": 1.6}, "encoding": {"color": {"field": "miss", "type": "nominal"}, "strokeDash": {"field": "method", "type": "nominal", "legend": null}}},
                        {"mark": {"type": "point", "filled": true, "size": 65, "opacity": 1}, "encoding": {"color": {"field": "miss", "type": "nominal"}, "shape": {"field": "method", "type": "nominal"}}}
                      ]
                    },
                    {"data": {"values": [{}]}, "mark": {"type": "rule", "strokeDash": [4, 4], "color": "#1a1a1a", "strokeWidth": 0.9}, "encoding": {"y": {"datum": 0}}}
                  ]
                },
                {
                  "width": 163, "height": 122,
                  "layer": [
                    {
                      "data": {"name": "sim"},
                      "transform": [{"filter": "datum.panel === 'C' && datum.wt === 'Weighted'"}],
                      "encoding": {
                        "x": {"field": "n", "type": "quantitative", "scale": {"domain": [-500, 10500], "nice": false, "zero": false}, "axis": {"values": [1000, 2500, 5000, 10000], "format": ",d", "title": null}},
                        "y": {"field": "value", "type": "quantitative", "scale": {"domain": [-8, 174], "nice": false, "zero": false}, "axis": {"values": [0, 50, 100, 150], "labels": false, "domain": false, "title": null}}
                      },
                      "layer": [
                        {"mark": {"type": "line", "strokeWidth": 1.6}, "encoding": {"color": {"field": "miss", "type": "nominal"}, "strokeDash": {"field": "method", "type": "nominal", "legend": null}}},
                        {"mark": {"type": "point", "filled": true, "size": 65, "opacity": 1}, "encoding": {"color": {"field": "miss", "type": "nominal"}, "shape": {"field": "method", "type": "nominal"}}}
                      ]
                    },
                    {"data": {"values": [{}]}, "mark": {"type": "rule", "strokeDash": [4, 4], "color": "#1a1a1a", "strokeWidth": 0.9}, "encoding": {"y": {"datum": 0}}}
                  ]
                }
              ]
            }
          ]
        },
        {
          "spacing": 0,
          "vconcat": [
            {
              "spacing": 6, "bounds": "flush",
              "hconcat": [
                {"width": 163, "height": 16, "title": "D. Exposure and outcome, percent bias", "view": {"stroke": "#1a1a1a", "strokeWidth": 1.2, "fill": "white"}, "data": {"values": [{"label": "Unweighted"}]}, "mark": {"type": "text", "fontSize": 8, "color": "#1a1a1a"}, "encoding": {"text": {"field": "label"}}},
                {"width": 163, "height": 16, "view": {"stroke": "#1a1a1a", "strokeWidth": 1.2, "fill": "white"}, "data": {"values": [{"label": "Weighted"}]}, "mark": {"type": "text", "fontSize": 8, "color": "#1a1a1a"}, "encoding": {"text": {"field": "label"}}}
              ]
            },
            {
              "spacing": 6, "bounds": "flush",
              "hconcat": [
                {
                  "width": 163, "height": 122,
                  "layer": [
                    {
                      "data": {"name": "sim"},
                      "transform": [{"filter": "datum.panel === 'D' && datum.wt === 'Unweighted'"}],
                      "encoding": {
                        "x": {"field": "n", "type": "quantitative", "scale": {"domain": [-500, 10500], "nice": false, "zero": false}, "axis": {"values": [1000, 2500, 5000, 10000], "format": ",d", "title": "Sample size", "titleX": 166}},
                        "y": {"field": "value", "type": "quantitative", "scale": {"domain": [-8, 174], "nice": false, "zero": false}, "axis": {"values": [0, 50, 100, 150], "labelExpr": "datum.value + '%'", "title": "Percent bias (%)"}}
                      },
                      "layer": [
                        {"mark": {"type": "line", "strokeWidth": 1.6}, "encoding": {"color": {"field": "miss", "type": "nominal"}, "strokeDash": {"field": "method", "type": "nominal", "legend": null}}},
                        {"mark": {"type": "point", "filled": true, "size": 65, "opacity": 1}, "encoding": {"color": {"field": "miss", "type": "nominal"}, "shape": {"field": "method", "type": "nominal"}}}
                      ]
                    },
                    {"data": {"values": [{}]}, "mark": {"type": "rule", "strokeDash": [4, 4], "color": "#1a1a1a", "strokeWidth": 0.9}, "encoding": {"y": {"datum": 0}}}
                  ]
                },
                {
                  "width": 163, "height": 122,
                  "layer": [
                    {
                      "data": {"name": "sim"},
                      "transform": [{"filter": "datum.panel === 'D' && datum.wt === 'Weighted'"}],
                      "encoding": {
                        "x": {"field": "n", "type": "quantitative", "scale": {"domain": [-500, 10500], "nice": false, "zero": false}, "axis": {"values": [1000, 2500, 5000, 10000], "format": ",d", "title": null}},
                        "y": {"field": "value", "type": "quantitative", "scale": {"domain": [-8, 174], "nice": false, "zero": false}, "axis": {"values": [0, 50, 100, 150], "labels": false, "domain": false, "title": null}}
                      },
                      "layer": [
                        {"mark": {"type": "line", "strokeWidth": 1.6}, "encoding": {"color": {"field": "miss", "type": "nominal"}, "strokeDash": {"field": "method", "type": "nominal", "legend": null}}},
                        {"mark": {"type": "point", "filled": true, "size": 65, "opacity": 1}, "encoding": {"color": {"field": "miss", "type": "nominal"}, "shape": {"field": "method", "type": "nominal"}}}
                      ]
                    },
                    {"data": {"values": [{}]}, "mark": {"type": "rule", "strokeDash": [4, 4], "color": "#1a1a1a", "strokeWidth": 0.9}, "encoding": {"y": {"datum": 0}}}
                  ]
                }
              ]
            }
          ]
        }
      ]
    }
  ]
}
